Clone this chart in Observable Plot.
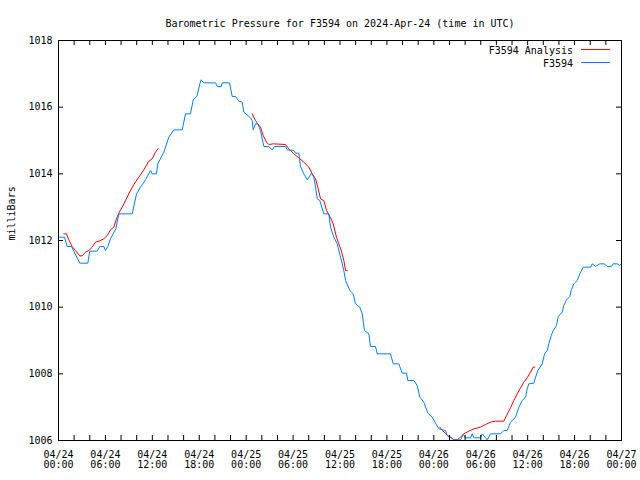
<!DOCTYPE html>
<html><head><meta charset="utf-8">
<script src="https://cdn.jsdelivr.net/npm/d3@7"></script>
<script src="https://cdn.jsdelivr.net/npm/@observablehq/plot@0.6"></script>
<style>
body{margin:0;background:#fff;}
#wrap{position:relative;width:640px;height:480px;font-family:"DejaVu Sans Mono",monospace;font-size:10px;color:#000;}
.legtxt{position:absolute;right:67px;height:13px;line-height:13px;white-space:pre;}
.legsw{position:absolute;left:581px;width:29px;height:0;}
</style>
</head><body>
<div id="wrap"></div>
<script>
// ---- data ----
const chartTitle = "Barometric Pressure for F3594 on 2024-Apr-24 (time in UTC)";
const yLabel = "milliBars";
const seriesNames = ["F3594 Analysis", "F3594"];
const seriesColors = ["#ff0000", "#0080ff"];
const yTicks = [1006, 1008, 1010, 1012, 1014, 1016, 1018];
const xTickHours = [0, 6, 12, 18, 24, 30, 36, 42, 48, 54, 60, 66, 72];
const xMinorHours = [0,2,4,6,8,10,12,14,16,18,20,22,24,26,28,30,32,34,36,38,40,42,44,46,48,50,52,54,56,58,60,62,64,66,68,70,72];

// observed series (hours since 2024-04-24 00:00 UTC)
const obsHours = [0.13,0.77,1.11,1.66,2.72,3.75,4.00,4.95,5.28,5.79,6.01,6.31,6.65,7.33,7.71,9.43,9.98,10.49,11.13,11.77,11.98,12.53,12.70,13.47,14.11,14.75,15.82,16.24,16.88,17.23,17.74,18.07,18.25,18.58,20.08,20.30,20.81,20.94,21.87,22.22,22.64,23.06,23.49,23.70,24.47,24.77,24.90,25.19,25.49,25.83,26.26,26.90,27.33,27.62,29.03,29.25,30.09,30.31,30.73,30.95,31.37,31.81,32.36,32.65,32.87,33.09,33.42,33.93,34.57,34.79,35.21,35.64,36.07,36.49,36.71,37.26,37.69,37.98,38.53,38.84,39.13,39.69,39.90,40.54,40.76,42.46,42.81,43.52,43.96,44.51,44.67,45.44,45.87,46.21,46.72,47.23,47.79,48.22,48.64,49.49,49.71,50.13,50.56,51.41,51.76,52.05,52.69,52.91,53.11,53.97,54.19,54.61,54.83,55.25,56.53,56.95,57.38,57.81,58.45,58.87,59.30,59.73,59.94,60.15,60.79,61.01,61.30,61.86,62.16,62.50,62.71,63.01,63.27,63.69,63.91,64.42,64.62,64.97,65.39,65.57,65.90,66.34,66.67,67.10,68.04,68.26,68.68,69.23,69.83,70.17,70.69,70.94,71.45,71.79,71.97];
const obsPressure = [1012.10,1012.10,1011.82,1011.82,1011.32,1011.32,1011.68,1011.68,1011.82,1011.82,1011.70,1011.82,1012.05,1012.35,1012.80,1012.80,1013.40,1013.60,1013.82,1014.10,1014.00,1014.00,1014.30,1014.65,1015.10,1015.32,1015.32,1015.80,1015.80,1016.22,1016.35,1016.70,1016.82,1016.73,1016.73,1016.62,1016.62,1016.73,1016.73,1016.32,1016.32,1016.18,1016.15,1015.85,1015.70,1015.60,1015.32,1015.50,1015.50,1015.30,1014.82,1014.82,1014.72,1014.82,1014.82,1014.72,1014.70,1014.62,1014.62,1014.22,1014.00,1013.82,1014.02,1013.90,1013.60,1013.25,1013.20,1012.80,1012.80,1012.40,1012.10,1011.90,1011.50,1011.10,1010.80,1010.50,1010.40,1010.10,1010.00,1009.80,1009.30,1009.20,1008.82,1008.82,1008.60,1008.60,1008.30,1008.30,1008.02,1008.02,1007.80,1007.80,1007.65,1007.30,1007.15,1006.82,1006.70,1006.52,1006.35,1006.30,1006.15,1006.10,1006.02,1006.02,1006.18,1006.08,1006.08,1006.20,1006.08,1006.08,1006.20,1006.08,1006.02,1006.20,1006.20,1006.30,1006.30,1006.55,1006.70,1007.00,1007.20,1007.30,1007.55,1007.70,1007.72,1007.90,1008.10,1008.30,1008.60,1008.70,1008.90,1009.15,1009.30,1009.45,1009.72,1009.85,1010.05,1010.22,1010.32,1010.50,1010.70,1010.80,1011.00,1011.20,1011.20,1011.30,1011.22,1011.30,1011.30,1011.22,1011.22,1011.30,1011.30,1011.25,1011.30];

// analysis series: three runs
const anaRun = [1,1,1,1,1,1,1,1,1,1,1,1,1,1,1,1,1,1,1,1,1,1,1,1,1,1,1,1,
                2,2,2,2,2,2,2,2,2,2,2,2,2,2,2,2,2,2,2,2,2,2,2,2,2,2,2,2,
                3,3,3,3,3,3,3,3,3,3,3,3,3,3,3,3,3,3,3,3,3,3,3,3,3,3];
const anaHours = [0.68,1.02,1.32,1.75,2.17,2.72,3.03,3.45,3.88,4.31,4.73,5.37,5.79,6.23,6.65,7.07,7.42,7.71,8.15,8.57,8.99,9.63,10.27,10.91,11.55,11.98,12.41,12.70,
                  24.77,25.19,25.49,25.83,26.18,26.60,26.90,27.46,29.03,29.45,30.09,30.73,31.37,32.01,32.45,32.87,33.16,33.51,33.93,34.28,34.79,35.13,35.55,35.85,36.16,36.49,36.71,36.92,
                  48.77,49.07,49.49,49.71,50.13,50.56,50.99,51.41,51.84,52.48,53.11,53.97,54.61,55.25,55.89,56.95,57.30,57.81,58.23,58.66,59.09,59.51,59.94,60.36,60.70,60.91];
const anaPressure = [1012.20,1012.20,1012.02,1011.82,1011.70,1011.54,1011.54,1011.65,1011.70,1011.80,1011.95,1012.00,1012.05,1012.15,1012.32,1012.40,1012.65,1012.82,1013.00,1013.20,1013.40,1013.68,1013.90,1014.12,1014.38,1014.45,1014.65,1014.75,
                     1015.80,1015.60,1015.50,1015.40,1015.15,1014.95,1014.88,1014.90,1014.88,1014.75,1014.60,1014.48,1014.35,1014.20,1014.00,1013.85,1013.60,1013.25,1013.20,1012.90,1012.68,1012.50,1012.10,1011.90,1011.70,1011.40,1011.10,1011.10,
                     1006.40,1006.30,1006.22,1006.15,1006.10,1006.02,1006.02,1006.10,1006.20,1006.28,1006.35,1006.40,1006.48,1006.55,1006.58,1006.58,1006.75,1006.98,1007.20,1007.40,1007.58,1007.75,1007.88,1008.05,1008.20,1008.20];

// ---- build ----
const base = Date.UTC(2024, 3, 24);
const toDate = h => new Date(base + h * 3600e3);
const obs = obsHours.map((h, i) => ({t: toDate(h), p: obsPressure[i]}));
const ana = anaHours.map((h, i) => ({t: toDate(h), p: anaPressure[i], run: anaRun[i]}));
const xTicks = xTickHours.map(toDate);
const xMinor = xMinorHours.map(toDate);

const W = 640, H = 480, mL = 58, mR = 19, mT = 40, mB = 40;
const fw = W - mL - mR, fh = H - mT - mB, tk = 5;

const chart = Plot.plot({
  width: W, height: H,
  marginLeft: mL, marginRight: mR, marginTop: mT, marginBottom: mB,
  style: {fontFamily: '"DejaVu Sans Mono", monospace', fontSize: "10px", color: "#000", background: "#fff", overflow: "visible"},
  x: {type: "utc", domain: [toDate(0), toDate(72)]},
  y: {domain: [1006, 1018]},
  marks: [
    Plot.line(ana, {x: "t", y: "p", z: "run", stroke: seriesColors[0], strokeWidth: 1, curve: "linear"}),
    Plot.line(obs, {x: "t", y: "p", stroke: seriesColors[1], strokeWidth: 1, curve: "linear"}),
    Plot.frame({stroke: "#000", strokeWidth: 1}),
    Plot.tickX(xMinor, {x: d => d, insetBottom: fh - tk, stroke: "#000"}),
    Plot.tickX(xMinor, {x: d => d, insetTop: fh - tk, stroke: "#000"}),
    Plot.tickY(yTicks, {y: d => d, insetRight: fw - tk, stroke: "#000"}),
    Plot.tickY(yTicks, {y: d => d, insetLeft: fw - tk, stroke: "#000"}),
    Plot.axisX({ticks: xTicks, tickSize: 0, tickPadding: 10, tickFormat: d3.utcFormat("%m/%d\n%H:%M"), label: null}),
    Plot.axisY({ticks: yTicks, tickSize: 0, tickPadding: 6, tickFormat: d => String(d), label: null}),
    Plot.text([chartTitle], {frameAnchor: "top", dy: -21, fill: "#000"}),
    Plot.text([yLabel], {frameAnchor: "left", dx: -47, rotate: -90, fill: "#000"})
  ]
});
const wrap = document.getElementById("wrap");
wrap.append(chart);

// legend
const legTop = [50, 63];
seriesNames.forEach((name, i) => {
  const t = document.createElement("div");
  t.className = "legtxt";
  t.style.top = (legTop[i] - 6.5) + "px";
  t.textContent = name;
  wrap.append(t);
  const s = document.createElement("div");
  s.className = "legsw";
  s.style.top = (legTop[i] - 1) + "px";
  s.style.borderTop = "1px solid " + seriesColors[i];
  wrap.append(s);
});
</script>
</body></html>
